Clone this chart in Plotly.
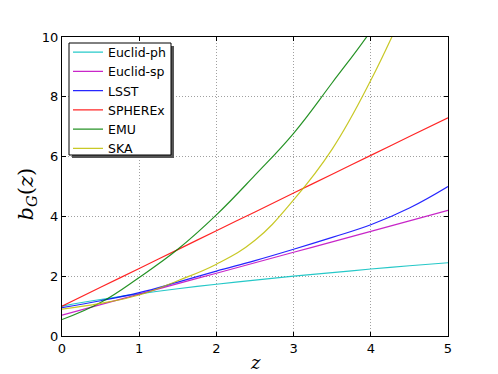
import plotly.graph_objects as go

# redshift grid (at steps of 0.5)
z = [0.0, 0.5, 1.0, 1.5, 2.0, 2.5, 3.0, 3.5, 4.0, 4.5, 5.0]

b_euclid_ph = [1.0, 1.22, 1.41, 1.58, 1.73, 1.87, 2.0, 2.12, 2.24, 2.35, 2.45]
b_euclid_sp = [0.7, 1.05, 1.4, 1.75, 2.1, 2.45, 2.8, 3.15, 3.5, 3.85, 4.2]
b_lsst = [0.95, 1.18, 1.45, 1.8, 2.17, 2.52, 2.9, 3.3, 3.72, 4.28, 5.0]
b_spherex = [1.0, 1.63, 2.26, 2.89, 3.52, 4.15, 4.78, 5.41, 6.04, 6.67, 7.3]

z_emu = [0.0, 0.5, 1.0, 1.5, 2.0, 2.5, 3.0, 3.5, 4.0, 4.5]
b_emu = [0.55, 1.12, 1.96, 2.9, 4.05, 5.38, 6.78, 8.47, 10.2, 12.2]

z_ska = [0.0, 0.5, 1.0, 1.5, 2.0, 2.5, 3.0, 3.5, 4.0, 4.5]
b_ska = [0.9, 1.09, 1.37, 1.85, 2.4, 3.2, 4.55, 6.25, 8.55, 11.3]

series = [
    ("Euclid-ph", z, b_euclid_ph, "#00BFBF"),
    ("Euclid-sp", z, b_euclid_sp, "#BF00BF"),
    ("LSST", z, b_lsst, "#0000FF"),
    ("SPHEREx", z, b_spherex, "#FF0000"),
    ("EMU", z_emu, b_emu, "#008000"),
    ("SKA", z_ska, b_ska, "#BFBF00"),
]

fig = go.Figure()
for name, xs, ys, col in series:
    fig.add_trace(go.Scatter(
        x=xs, y=ys, name=name, mode="lines",
        line=dict(color=col, width=1.2, shape="spline", smoothing=1.2),
        opacity=0.85,
    ))

axis_common = dict(
    showline=True, linecolor="black", linewidth=1, mirror="ticks",
    ticks="inside", ticklen=4, tickcolor="black",
    showgrid=True, gridcolor="#a0a0a0", griddash="1px,2px", gridwidth=1,
    zeroline=False, automargin=False,
    tickfont=dict(family="DejaVu Sans", size=13, color="black"),
)

fig.update_xaxes(range=[0, 5], dtick=1, **axis_common)
fig.update_yaxes(range=[0, 10], dtick=2, **axis_common)

# axis titles (matplotlib mathtext look)
fig.add_annotation(text="<i>z</i>", xref="paper", yref="paper", x=0.5, y=-0.09,
                   xanchor="center", yanchor="middle", showarrow=False,
                   font=dict(family="DejaVu Serif", size=18, color="black"))
fig.add_annotation(text="<i>b</i><sub><i>G</i></sub>(<i>z</i>)", xref="paper", yref="paper",
                   x=-0.092, y=0.475, xanchor="center", yanchor="middle", textangle=-90,
                   showarrow=False, font=dict(family="DejaVu Serif", size=21, color="black"))

# legend frame + shadow (plot area: 386 x 299 px)
def px_x(p):
    return p / 386

def px_y(p):
    return 1 - p / 299

fig.add_shape(type="rect", xref="paper", yref="paper",
              x0=px_x(10), x1=px_x(112), y0=px_y(121), y1=px_y(9),
              fillcolor="#555555", line=dict(width=0), layer="above")
fig.add_shape(type="rect", xref="paper", yref="paper",
              x0=px_x(7), x1=px_x(109), y0=px_y(118), y1=px_y(6),
              fillcolor="white", line=dict(color="black", width=1), layer="above")

fig.update_layout(
    width=490, height=366,
    margin=dict(l=54, r=50, t=29, b=38),
    paper_bgcolor="white", plot_bgcolor="white",
    showlegend=True,
    legend=dict(
        x=px_x(6), y=px_y(0.5), xanchor="left", yanchor="top",
        bgcolor="rgba(0,0,0,0)", borderwidth=0,
        font=dict(family="DejaVu Sans", size=12.5, color="black"),
        itemwidth=30, tracegroupgap=0,
    ),
)

fig.write_html("out.html")
